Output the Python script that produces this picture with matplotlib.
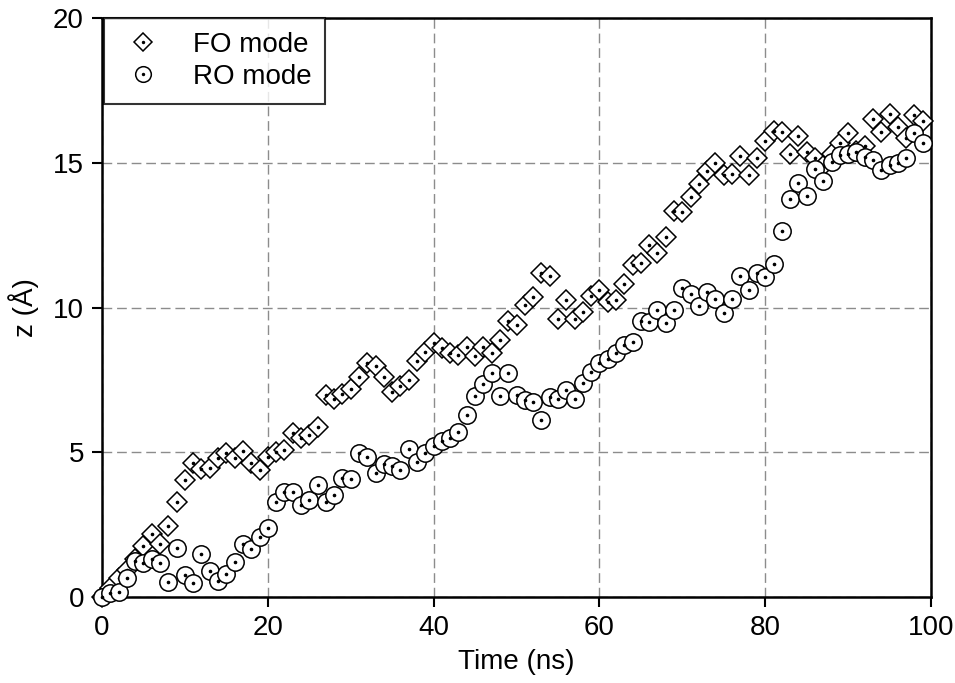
import numpy as np
import matplotlib
matplotlib.use("Agg")
import matplotlib.pyplot as plt

# time axis, 1 ns steps
time_ns = np.arange(0, 100)

# z position for the two modes
fo_mode = [0.0, 0.3, 0.65, 0.95, 1.3, 1.77, 2.18, 1.83, 2.46, 3.29,
           4.04, 4.62, 4.43, 4.47, 4.80, 4.97, 4.79, 5.04, 4.64, 4.39,
           4.84, 5.02, 5.08, 5.65, 5.50, 5.60, 5.86, 6.98, 6.83, 7.0,
           7.2, 7.61, 8.07, 7.99, 7.61, 7.09, 7.29, 7.5, 8.16, 8.46,
           8.76, 8.59, 8.42, 8.36, 8.65, 8.32, 8.62, 8.44, 8.88, 9.53,
           9.40, 10.09, 10.35, 11.18, 11.09, 9.59, 10.26, 9.59, 9.85, 10.41,
           10.6, 10.2, 10.26, 10.81, 11.47, 11.53, 12.16, 11.89, 12.45, 13.33,
           13.31, 13.83, 14.26, 14.72, 14.98, 14.58, 14.61, 15.22, 14.58, 15.18,
           15.75, 16.11, 16.05, 15.3, 15.92, 15.38, 15.15, 14.9, 15.3, 15.7,
           16.02, 15.4, 15.58, 16.5, 16.08, 16.68, 16.24, 15.87, 16.65, 16.45]

ro_mode = [0.0, 0.13, 0.18, 0.67, 1.24, 1.18, 1.3, 1.18, 0.53, 1.68,
           0.76, 0.49, 1.49, 0.91, 0.55, 0.79, 1.22, 1.82, 1.65, 2.08,
           2.39, 3.29, 3.64, 3.62, 3.18, 3.35, 3.87, 3.27, 3.52, 4.1,
           4.06, 4.99, 4.85, 4.29, 4.58, 4.54, 4.39, 5.13, 4.67, 4.99,
           5.23, 5.4, 5.5, 5.7, 6.3, 6.94, 7.35, 7.75, 6.94, 7.73,
           6.98, 6.80, 6.72, 6.11, 6.92, 6.84, 7.15, 6.84, 7.38, 7.77,
           8.1, 8.21, 8.42, 8.70, 8.82, 9.53, 9.51, 9.91, 9.45, 9.91,
           10.66, 10.47, 10.05, 10.55, 10.29, 9.80, 10.29, 11.09, 10.59, 11.18,
           11.07, 11.5, 12.64, 13.75, 14.29, 13.85, 14.78, 14.37, 15.04, 15.28,
           15.3, 15.38, 15.2, 15.11, 14.75, 14.92, 15.0, 15.18, 16.03, 15.67]

x_ticks = [0, 20, 40, 60, 80, 100]
y_ticks = [0, 5, 10, 15, 20]

plt.rcParams['font.family'] = ['Liberation Sans', 'DejaVu Sans']
plt.rcParams['font.size'] = 20

fig = plt.figure(figsize=(9.55, 6.83), dpi=100)
ax = fig.add_axes([0.1068, 0.1259, 0.8681, 0.8477])

# open markers, with a small dot in the middle
fo_mark, = ax.plot(time_ns, fo_mode, linestyle='none', marker='D', markersize=10.5,
                   markerfacecolor='white', markeredgecolor='black', markeredgewidth=1.1,
                   clip_on=False, zorder=3)
fo_dot, = ax.plot(time_ns, fo_mode, linestyle='none', marker='o', markersize=1.6,
                  color='black', clip_on=False, zorder=3)
ro_mark, = ax.plot(time_ns, ro_mode, linestyle='none', marker='o', markersize=12.5,
                   markerfacecolor='white', markeredgecolor='black', markeredgewidth=1.1,
                   clip_on=False, zorder=4)
ro_dot, = ax.plot(time_ns, ro_mode, linestyle='none', marker='o', markersize=1.6,
                  color='black', clip_on=False, zorder=4)

ax.set_xlim(0, 100)
ax.set_ylim(0, 20)
ax.set_xticks(x_ticks)
ax.set_yticks(y_ticks)
ax.tick_params(direction='out', length=7, width=1.5, pad=6)

ax.grid(True, color='#8c8c8c', linestyle=(0, (7, 3.5)), linewidth=1.0)
ax.set_axisbelow(True)
for sp in ax.spines.values():
    sp.set_linewidth(1.8)

ax.set_xlabel('Time (ns)', labelpad=6)
ax.set_ylabel('z (Å)', labelpad=10)

leg = ax.legend([(fo_mark, fo_dot), (ro_mark, ro_dot)], ['FO mode', 'RO mode'],
                loc='upper left', bbox_to_anchor=(0.002, 1.0), borderaxespad=0,
                frameon=True, fancybox=False, markerscale=0.9,
                handlelength=1.8, handletextpad=0.9, borderpad=0.5,
                labelspacing=0.22)
leg.get_frame().set_edgecolor('black')
leg.get_frame().set_linewidth(1.5)

fig.savefig('out.png', dpi=100)
